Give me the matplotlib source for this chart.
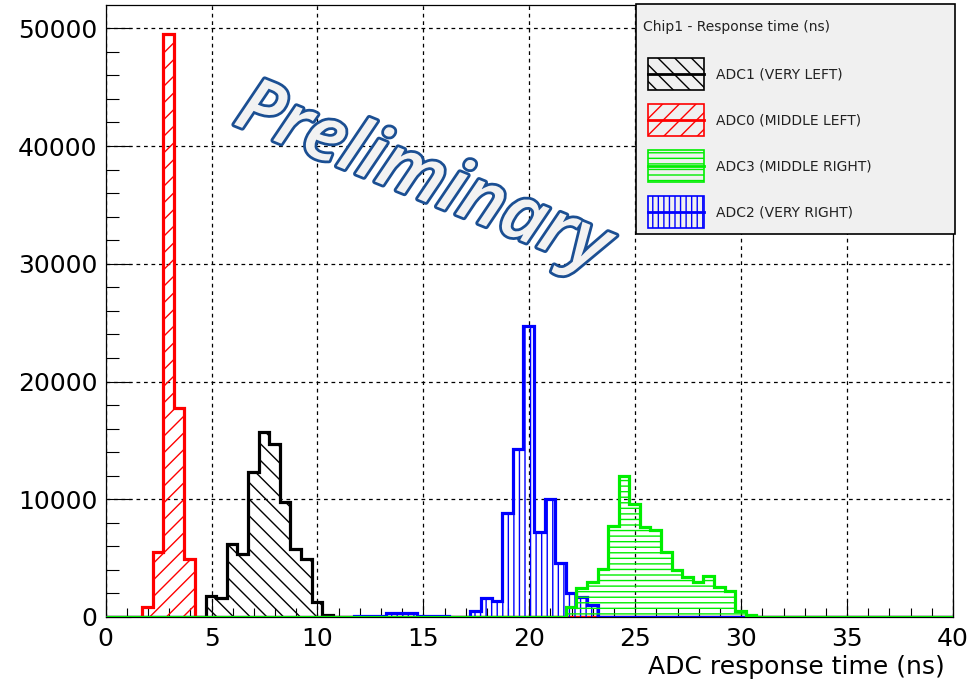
"""ADC response time histograms for Chip1, four ADC channels."""

import matplotlib.pyplot as plt
import matplotlib.patheffects as pe
import numpy as np
from matplotlib.lines import Line2D
from matplotlib.patches import Rectangle
from matplotlib.ticker import MultipleLocator

# binning: 0.5 ns bins starting at 0.22 ns, clipped to the 0-40 ns axis
X_MIN, X_MAX = 0.0, 40.0
BIN_WIDTH = 0.5
BIN_OFFSET = 0.22

# counts per bin, starting at the given lower edge (ns)
adc1_start = 4.72
adc1_counts = [1800, 1600, 6200, 5350, 12300, 15750, 14700, 9750, 5750, 4900, 1250, 200]

adc0_start = 1.72
adc0_counts = [820, 5500, 49500, 17750, 4950]

adc2_start = 11.72
adc2_counts = [120, 120, 120, 330, 330, 330, 120, 120, 120, 0, 0,
               480, 1650, 1350, 8850, 14300, 24700, 7250, 10050, 4550, 2050, 1700, 1000]

adc3_start = 21.72
adc3_counts = [850, 2450, 2950, 4100, 7750, 11950, 9600, 7650, 7400, 5550,
               4000, 3400, 2950, 3500, 2550, 2250, 550, 200]

labels = ["ADC1 (VERY LEFT)", "ADC0 (MIDDLE LEFT)", "ADC3 (MIDDLE RIGHT)", "ADC2 (VERY RIGHT)"]
colors = ["black", "#ff0000", "#00ee00", "#0000ff"]
hatches = ["\\\\", "//", "---", "|||"]

edges = np.concatenate([[X_MIN], BIN_OFFSET + BIN_WIDTH * np.arange(80), [X_MAX]])


def full_counts(start, counts):
    """Spread a short list of counts over the whole 0-40 ns binning."""
    full = np.zeros(len(edges) - 1)
    k = int(round((start - BIN_OFFSET) / BIN_WIDTH)) + 1
    full[k:k + len(counts)] = counts
    return full


def draw_hist(ax, start, counts, color, hatch, z):
    vals = full_counts(start, counts)
    ax.stairs(vals, edges, fill=True, facecolor="none", edgecolor=color,
              hatch=hatch, linewidth=0, zorder=z)
    ax.stairs(vals, edges, color=color, linewidth=2.3, baseline=0, zorder=z + 0.5)


plt.rcParams["hatch.linewidth"] = 1.0
plt.rcParams["font.family"] = ["DejaVu Sans"]

W, H = 971, 683
fig = plt.figure(figsize=(W / 100, H / 100), dpi=100)
ax = fig.add_axes([105.6 / W, (H - 617) / H, (953 - 105.6) / W, (617 - 5) / H])

draw_hist(ax, adc1_start, adc1_counts, colors[0], hatches[0], 3)
draw_hist(ax, adc0_start, adc0_counts, colors[1], hatches[1], 4)
draw_hist(ax, adc2_start, adc2_counts, colors[3], hatches[3], 5)
draw_hist(ax, adc3_start, adc3_counts, colors[2], hatches[2], 6)

ymax = 1.05 * max(max(adc1_counts), max(adc0_counts), max(adc2_counts), max(adc3_counts))
ax.set_xlim(X_MIN, X_MAX)
ax.set_ylim(0, ymax)

ax.xaxis.set_major_locator(MultipleLocator(5))
ax.xaxis.set_minor_locator(MultipleLocator(1))
ax.yaxis.set_major_locator(MultipleLocator(10000))
ax.yaxis.set_minor_locator(MultipleLocator(2000))
ax.tick_params(which="both", direction="in", top=False, right=False, width=0.8,
               labelsize=18)
ax.tick_params(axis="x", which="major", length=12.5, pad=7)
ax.tick_params(axis="x", which="minor", length=6.5)
ax.tick_params(axis="y", which="major", length=18, pad=6)
ax.tick_params(axis="y", which="minor", length=9.5)
ax.grid(True, which="major", color="black", linestyle=(0, (3, 3)), linewidth=0.9)
ax.set_axisbelow(True)
for sp in ax.spines.values():
    sp.set_linewidth(0.9)

ax.set_xlabel("ADC response time (ns)", fontsize=18, ha="right")
ax.xaxis.set_label_coords((945 - 105.6) / (953 - 105.6), -(655 - 617) / (617 - 5))

# watermark
fig.text(422 / W, 1 - 180 / H, "Preliminary", fontsize=54, style="italic",
         family="Open Sans", fontweight="semibold", color="#f2f2f2", rotation=-22,
         ha="center", va="center", rotation_mode="anchor", zorder=20,
         path_effects=[pe.withStroke(linewidth=4, foreground="#1b4f93")])

# legend box, drawn by hand in figure pixels
def px(x, y):
    return x / W, 1 - y / H


lx0, ly0, lx1, ly1 = 636, 4, 955, 234
fig.add_artist(Rectangle(px(lx0, ly1), (lx1 - lx0) / W, (ly1 - ly0) / H,
                         transform=fig.transFigure, facecolor="#f0f0f0",
                         edgecolor="black", linewidth=1.2, zorder=30))
fig.text(*px(643, 27), "Chip1 - Response time (ns)", fontsize=10, color="#222222",
         ha="left", va="center", zorder=31)

entry_y = [74, 120, 166, 212]
for yc, i in zip(entry_y, range(4)):
    bx0, bx1, bh = 648, 704, 32
    fig.add_artist(Rectangle(px(bx0, yc + bh / 2), (bx1 - bx0) / W, bh / H,
                             transform=fig.transFigure, facecolor="none",
                             edgecolor=colors[i], hatch=hatches[i], linewidth=1.2,
                             zorder=31))
    fig.add_artist(Line2D([bx0 / W, bx1 / W], [1 - yc / H] * 2,
                          transform=fig.transFigure, color=colors[i],
                          linewidth=2.0, zorder=32))
    fig.text(*px(716, yc), labels[i], fontsize=10, color="#222222",
             ha="left", va="center", zorder=31)

fig.savefig("out.png", dpi=100)
